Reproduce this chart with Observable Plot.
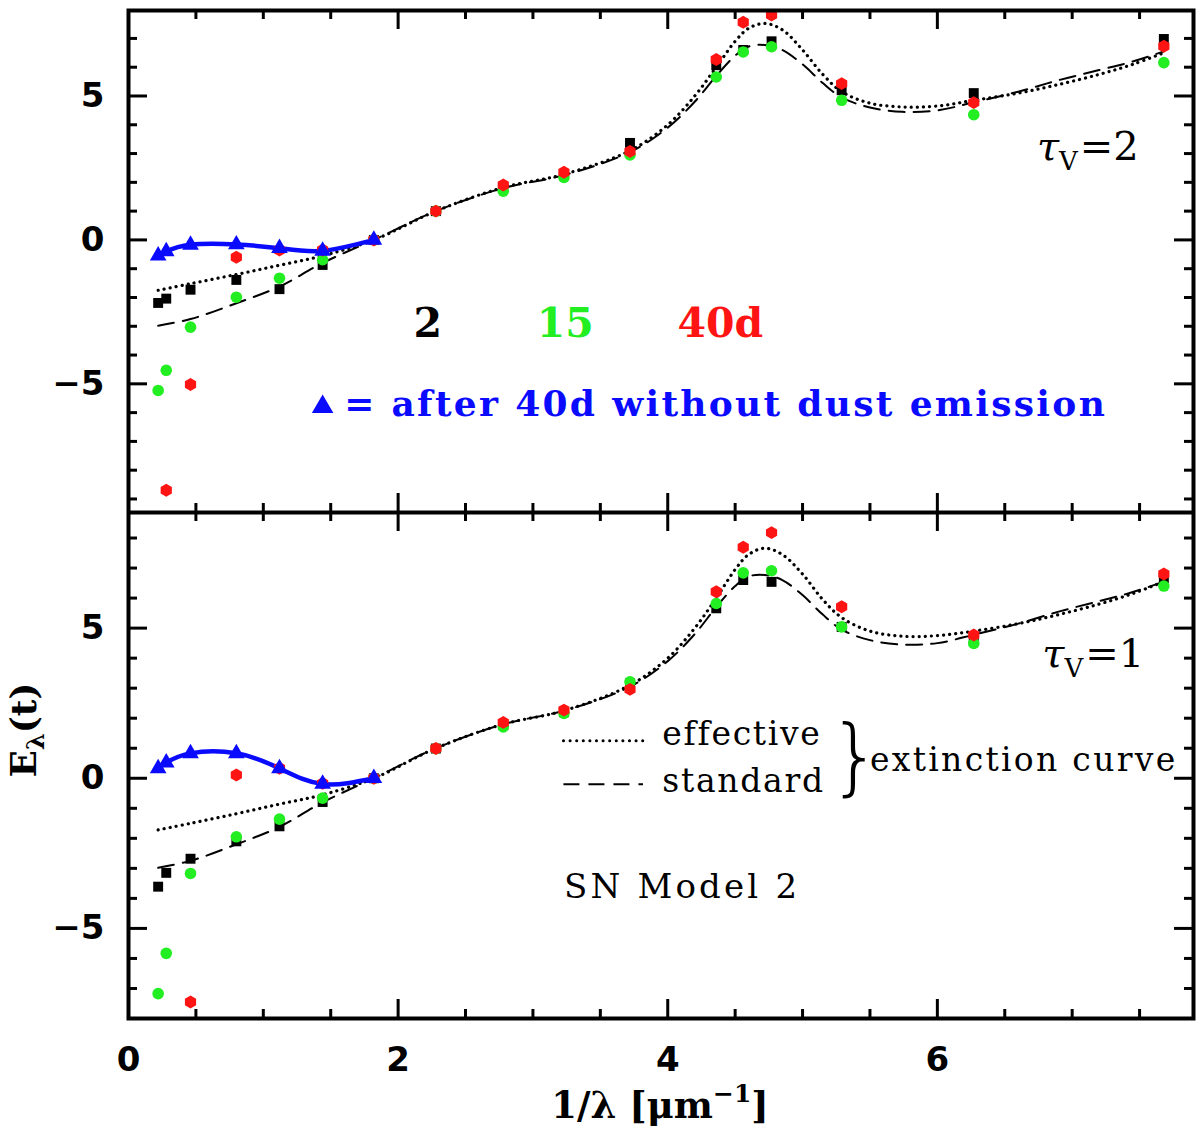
<!DOCTYPE html>
<html><head><meta charset="utf-8">
<script src="https://cdn.jsdelivr.net/npm/d3@7"></script>
<script src="https://cdn.jsdelivr.net/npm/@observablehq/plot@0.6"></script>
<style>
html,body{margin:0;padding:0;background:#fff;}
#chart svg{display:block;}
</style></head><body><div id="chart"></div>
<script>
// ---------- data ----------
const bandX = [0.22,0.28,0.46,0.80,1.12,1.44,1.82,2.28,2.78,3.23,3.72,4.36,4.56,4.77,5.29,6.27,7.68];
// upper panel (tau_V = 2)
const top2d  = [-2.19,-2.04,-1.73,-1.39,-1.71,-0.87,0,1.0,1.83,2.29,3.37,6.07,6.6,6.9,5.2,5.1,6.98];
const top15d = [-5.23,-4.53,-3.03,-1.99,-1.33,-0.69,0,1.0,1.69,2.17,2.95,5.66,6.53,6.71,4.85,4.35,6.16];
const top40d = [null,-8.7,-5.02,-0.60,-0.35,-0.35,0,1.0,1.91,2.35,3.07,6.27,7.56,7.81,5.43,4.77,6.73];
const topNoDust = [-0.55,-0.40,-0.17,-0.16,-0.29,-0.38,0];
// lower panel (tau_V = 1)
const bot2d  = [-3.61,-3.15,-2.68,-2.10,-1.60,-0.79,0,0.99,1.77,2.2,3.16,5.66,6.6,6.54,5.04,4.66,6.66];
const bot15d = [-7.17,-5.83,-3.17,-1.95,-1.36,-0.66,0,0.99,1.71,2.16,3.21,5.82,6.84,6.91,5.04,4.49,6.4];
const bot40d = [null,null,-7.45,0.11,0.33,-0.17,0,0.99,1.86,2.27,2.96,6.21,7.69,8.18,5.71,4.77,6.8];
const botNoDust = [0.33,0.52,0.83,0.83,0.33,-0.19,0];
const noDustX = [0.22,0.28,0.46,0.80,1.12,1.44,1.82];
// extinction curves
const curveX = [0.22,0.46,0.8,1.12,1.44,1.82,2.28,2.78,3.23,3.72,4.0,4.2,4.36,4.5,4.6,4.72,4.85,5.0,5.15,5.29,5.5,5.74,6.0,6.27,6.6,6.9,7.2,7.45,7.68];
const standardCurve = [-2.98,-2.75,-2.2,-1.62,-0.8,0,1.0,1.8,2.25,3.05,3.9,4.8,5.7,6.4,6.72,6.77,6.6,6.1,5.45,4.95,4.6,4.45,4.5,4.78,5.15,5.55,5.9,6.2,6.55];
const effectiveTop = [-1.75,-1.52,-1.2,-0.88,-0.55,0,1.0,1.82,2.28,3.1,4.0,5.0,6.0,6.9,7.35,7.52,7.3,6.6,5.75,5.15,4.75,4.62,4.65,4.85,5.1,5.4,5.75,6.1,6.5];
const effectiveBot = [-1.72,-1.5,-1.18,-0.86,-0.55,0,1.0,1.8,2.25,3.1,4.0,5.0,6.0,6.95,7.45,7.66,7.45,6.8,5.95,5.35,4.9,4.73,4.75,4.9,5.15,5.45,5.8,6.15,6.55];
// ticks
const xTickLabels = [0, 2, 4, 6];
const xMajor = [2, 4, 6];
const xMinor = [0.5,1,1.5,2.5,3,3.5,4.5,5,5.5,6.5,7,7.5];
const yTickLabels = [-5, 0, 5];
const yMinorTop = [-9,-8,-7,-6,-4,-3,-2,-1,1,2,3,4,6,7];
const yMinorBot = [-7,-6,-4,-3,-2,-1,1,2,3,4,6,7,8];

// ---------- style ----------
const W = 1200, ML = 128, MR = 7;
const FONT = "'DejaVu Serif', serif";
const TICKFONT = "'DejaVu Sans', sans-serif";
const C2 = "#000000", C15 = "#22ee22", C40 = "#ff1414", CB = "#0a0aff";

function pts(xs, ys) { return xs.map((x, i) => ({x, y: ys[i]})).filter(d => d.y != null); }

function tickMarks(H, yMinor) {
  const IW = W - ML - MR;
  const s = {stroke: "black", strokeWidth: 3};
  return [
    Plot.ruleX(xMinor, {...s, insetTop: H - 9}),
    Plot.ruleX(xMajor, {...s, insetTop: H - 19}),
    Plot.ruleX(xMinor, {...s, insetBottom: H - 9}),
    Plot.ruleX(xMajor, {...s, insetBottom: H - 19}),
    Plot.ruleY(yMinor, {...s, insetRight: IW - 9}),
    Plot.ruleY(yTickLabels, {...s, insetRight: IW - 19}),
    Plot.ruleY(yMinor, {...s, insetLeft: IW - 9}),
    Plot.ruleY(yTickLabels, {...s, insetLeft: IW - 19})
  ];
}

function dataMarks(s2, s15, s40, noDust, effective) {
  return [
    Plot.line(pts(curveX, effective), {x: "x", y: "y", curve: "catmull-rom", stroke: "black", strokeWidth: 3.2, strokeDasharray: "0.1,6", strokeLinecap: "round"}),
    Plot.line(pts(curveX, standardCurve), {x: "x", y: "y", curve: "catmull-rom", stroke: "black", strokeWidth: 2, strokeDasharray: "16,9"}),
    Plot.line(pts(noDustX, noDust), {x: "x", y: "y", curve: "natural", stroke: CB, strokeWidth: 4.5}),
    Plot.dot(pts(bandX, s2), {x: "x", y: "y", symbol: "square", r: 5.6, fill: C2}),
    Plot.dot(pts(bandX, s15), {x: "x", y: "y", symbol: "circle", r: 5.8, fill: C15}),
    Plot.dot(pts(bandX, s40), {x: "x", y: "y", symbol: "hexagon", r: 5.6, fill: C40}),
    Plot.dot(pts(noDustX, noDust), {x: "x", y: "y", symbol: "triangle", r: 6.2, fill: CB})
  ];
}

const yFmt = d => d < 0 ? "\u2212" + (-d) : String(d);

// ---------- upper panel ----------
const topH = 512, topMT = 10, topMB = 0;
const topChart = Plot.plot({
  width: W, height: topH, marginTop: topMT, marginBottom: topMB, marginLeft: ML, marginRight: MR,
  style: {fontFamily: FONT, background: "white", color: "black"},
  x: {domain: [0, 7.9], axis: null},
  y: {domain: [-9.47, 7.97]},
  marks: [
    ...dataMarks(top2d, top15d, top40d, topNoDust, effectiveTop),
    Plot.text([{t: "2", x: 2.22, c: C2}, {t: "15", x: 3.24, c: C15}, {t: "40d", x: 4.39, c: C40}],
      {x: "x", y: () => -2.9, text: "t", fill: "c", fontSize: 41, fontWeight: "bold"}),
    Plot.dot([{x: 1.44, y: -5.8}], {x: "x", y: "y", symbol: "triangle", r: 8, fill: CB}),
    Plot.text(["= after 40d without dust emission"], {x: () => 1.6, y: () => -5.72, textAnchor: "start", fill: CB, fontSize: 36, fontWeight: "bold"}),
    Plot.axisY(yTickLabels, {tickSize: 0, tickPadding: 24, fontSize: 34, fontWeight: "bold", fontFamily: TICKFONT, tickFormat: yFmt, label: null}),
    ...tickMarks(topH - topMT - topMB, yMinorTop),
    Plot.frame({stroke: "black", strokeWidth: 4})
  ]
});

// ---------- lower panel ----------
const botH = 618, botMT = 0, botMB = 112;
const botChart = Plot.plot({
  width: W, height: botH, marginTop: botMT, marginBottom: botMB, marginLeft: ML, marginRight: MR,
  style: {fontFamily: FONT, background: "white", color: "black"},
  x: {domain: [0, 7.9]},
  y: {domain: [-8, 8.85]},
  marks: [
    ...dataMarks(bot2d, bot15d, bot40d, botNoDust, effectiveBot),
    Plot.ruleY([1.25], {x1: 3.23, x2: 3.82, stroke: "black", strokeWidth: 3, strokeDasharray: "0.1,6.5", strokeLinecap: "round"}),
    Plot.ruleY([-0.2], {x1: 3.23, x2: 3.82, stroke: "black", strokeWidth: 2, strokeDasharray: "16,9"}),
    Plot.text([{t: "effective", y: 1.45}, {t: "standard", y: -0.12}], {x: () => 3.96, y: "y", text: "t", textAnchor: "start", fontSize: 33}),
    Plot.text(["}"], {x: () => 5.39, y: () => 0.68, fontSize: 84, fontWeight: 200, fontFamily: "'DejaVu Sans', sans-serif"}),
    Plot.text(["extinction curve"], {x: () => 5.5, y: () => 0.61, textAnchor: "start", fontSize: 33}),
    Plot.text(["SN Model 2"], {x: () => 3.23, y: () => -3.63, textAnchor: "start", fontSize: 34}),
    Plot.axisY(yTickLabels, {tickSize: 0, tickPadding: 24, fontSize: 34, fontWeight: "bold", fontFamily: TICKFONT, tickFormat: yFmt, label: null}),
    Plot.axisX(xTickLabels, {tickSize: 0, tickPadding: 28, fontSize: 34, fontWeight: "bold", fontFamily: TICKFONT, tickFormat: d => String(d), label: null}),
    ...tickMarks(botH - botMT - botMB, yMinorBot),
    Plot.frame({stroke: "black", strokeWidth: 4})
  ]
});

// widen the letter spacing of the wide plotter-style labels
function spacing(chart, content, px) {
  d3.select(chart).selectAll("text").filter(function() { return this.textContent === content; })
    .style("letter-spacing", px + "px");
}
spacing(topChart, "= after 40d without dust emission", 2.3);
spacing(botChart, "effective", 1.7);
spacing(botChart, "standard", 1.7);
spacing(botChart, "extinction curve", 2.3);
spacing(botChart, "SN Model 2", 3.2);

// ---------- math-style labels ----------
function tau(chart, x, y, val) {
  const sx = chart.scale("x").apply(x), sy = chart.scale("y").apply(y);
  const t = d3.select(chart).append("text").attr("x", sx).attr("y", sy)
    .attr("font-family", FONT).attr("font-size", 40).attr("fill", "black");
  t.append("tspan").attr("font-style", "italic").text("\u03C4");
  t.append("tspan").attr("font-size", 26).attr("dy", 10).text("V");
  t.append("tspan").attr("dy", -10).attr("dx", 2).text("=" + val);
}
tau(topChart, 7.12, 2.75, 2);
tau(botChart, 7.16, 3.7, 1);

// y label
{
  const g = d3.select(botChart).append("text")
    .attr("transform", "translate(36," + (730 - 512) + ") rotate(-90)")
    .attr("text-anchor", "middle").attr("font-family", FONT).attr("font-weight", "bold").attr("font-size", 36).attr("fill", "black");
  g.append("tspan").text("E");
  g.append("tspan").attr("font-size", 24).attr("dy", 8).text("\u03BB");
  g.append("tspan").attr("dy", -8).text("(t)");
}
// x label
{
  const g = d3.select(botChart).append("text")
    .attr("x", 660).attr("y", 1118 - 512)
    .attr("text-anchor", "middle").attr("font-family", FONT).attr("font-weight", "bold").attr("font-size", 37).attr("fill", "black");
  g.append("tspan").text("1/\u03BB [\u03BCm");
  g.append("tspan").attr("font-size", 25).attr("dy", -16).text("\u22121");
  g.append("tspan").attr("dy", 16).text("]");
}

document.getElementById("chart").append(topChart, botChart);
</script></body></html>
